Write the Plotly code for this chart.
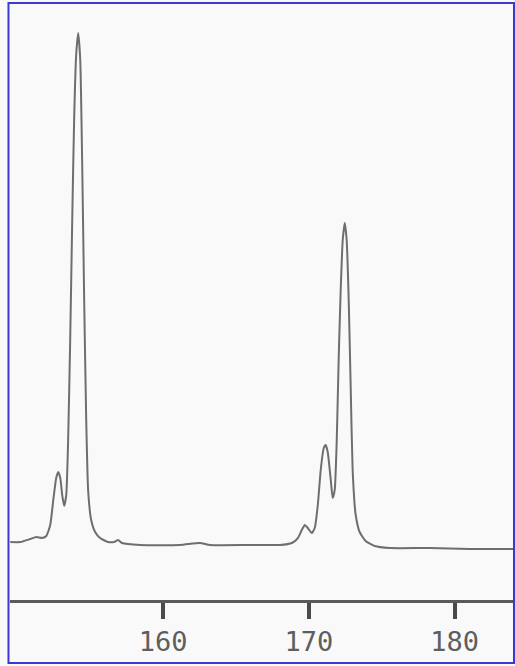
import plotly.graph_objects as go

# Spectrum trace (x = position, y = intensity, arbitrary units)
x_vals = [149.52, 150.21, 150.89, 151.30, 151.71, 151.99, 152.26, 152.47, 152.67, 152.81,
          152.95, 153.08, 153.22, 153.36, 153.49, 153.63, 153.77, 153.90, 154.04, 154.18,
          154.32, 154.45, 154.59, 154.73, 154.86, 155.07, 155.34, 155.68, 156.23, 156.64,
          156.92, 157.19, 158.42, 161.16, 162.53, 163.22, 165.96, 168.01, 168.84, 169.25,
          169.52, 169.73, 169.93, 170.21, 170.41, 170.62, 170.82, 171.03, 171.16, 171.30,
          171.51, 171.64, 171.78, 171.92, 172.05, 172.19, 172.33, 172.47, 172.60, 172.74,
          172.88, 173.01, 173.22, 173.49, 173.90, 174.52, 175.55, 178.29, 181.03, 184.11]
y_vals = [9.73, 9.73, 10.23, 10.57, 10.40, 10.74, 12.58, 16.78, 20.47, 21.48,
          20.47, 17.62, 15.77, 17.62, 26.85, 43.62, 63.76, 80.54, 91.44, 95.13,
          90.60, 73.83, 50.34, 30.20, 18.46, 13.42, 11.41, 10.40, 9.73, 9.73,
          10.07, 9.56, 9.23, 9.23, 9.56, 9.23, 9.23, 9.23, 9.56, 10.40,
          11.74, 12.58, 12.08, 11.24, 12.08, 15.94, 21.81, 25.50, 26.01, 24.83,
          20.13, 17.11, 18.46, 26.85, 40.27, 52.01, 60.40, 63.26, 60.40, 50.34,
          35.23, 21.81, 14.26, 11.41, 9.90, 9.06, 8.72, 8.72, 8.56, 8.56]

tick_vals = [160, 170, 180]
tick_text = ["160", "170", "180"]

fig = go.Figure()
fig.add_trace(go.Scatter(
    x=x_vals, y=y_vals, mode="lines",
    line=dict(color="#6e6e6e", width=2, shape="spline", smoothing=0.5),
    hoverinfo="skip", showlegend=False,
))

fig.update_layout(
    width=515, height=666,
    margin=dict(l=10, r=0, t=4, b=66),
    paper_bgcolor="#f9f9f9",
    plot_bgcolor="#f9f9f9",
    showlegend=False,
    xaxis=dict(
        range=[149.5, 184.15],
        tickvals=tick_vals, ticktext=tick_text,
        ticks="outside", ticklen=16, tickwidth=4, tickcolor="#4a4a4a",
        showline=True, linecolor="#5a5a5a", linewidth=3,
        showgrid=False, zeroline=False,
        tickfont=dict(family="DejaVu Sans Mono", size=27, color="#5e5e5e"),
        fixedrange=True,
    ),
    yaxis=dict(
        range=[0, 100], visible=False, showgrid=False, zeroline=False, fixedrange=True,
    ),
    shapes=[dict(
        type="rect", xref="paper", yref="paper",
        x0=-0.003, x1=0.998, y0=-0.1057, y1=1.0017,
        line=dict(color="#3a3ad0", width=2), fillcolor="rgba(0,0,0,0)",
        layer="above",
    )],
)

fig.write_html(
    "out.html",
    config={"displayModeBar": False, "staticPlot": True},
    post_script="document.body.style.margin='0';document.body.style.padding='0';",
)
